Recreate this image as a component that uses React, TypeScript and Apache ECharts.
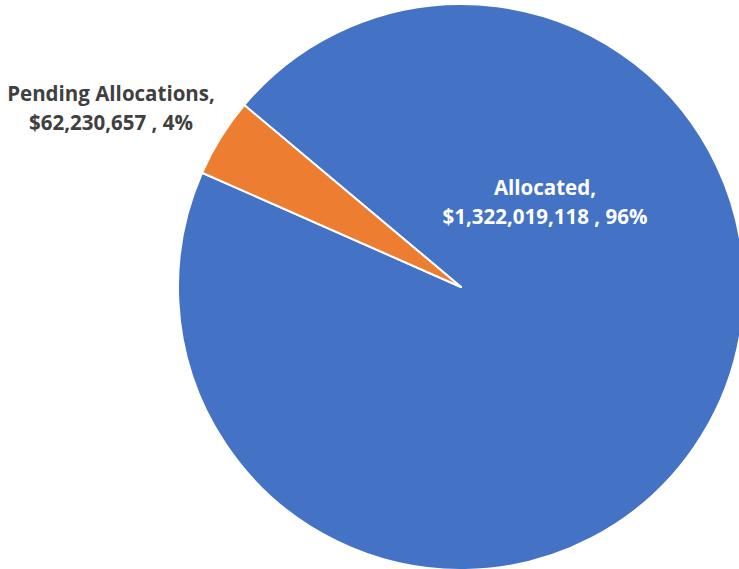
import React, { useEffect, useRef } from "react";
import * as echarts from "echarts";

const categories = ["Allocated", "Pending Allocations"];
const values = [1322019118, 62230657];
const colors = ["#4472C4", "#ED7D31"];

function fmt(v: number) {
  return "$" + v.toLocaleString("en-US");
}

export default function App() {
  const ref = useRef<HTMLDivElement>(null);
  useEffect(() => {
    document.body.style.margin = "0";
    const chart = echarts.init(ref.current!, null, { renderer: "svg" });
    chart.setOption({
      animation: false,
      backgroundColor: "#ffffff",
      series: [
        {
          type: "pie",
          center: [461, 287],
          radius: 283,
          startAngle: 140,
          clockwise: true,
          percentPrecision: 0,
          itemStyle: { borderColor: "#ffffff", borderWidth: 2 },
          labelLine: { show: false },
          data: categories.map((c, i) => ({
            name: c,
            value: values[i],
            itemStyle: { color: colors[i] },
            label: {
              show: true,
              position: "inside",
              overflow: "none",
              color: i === 0 ? "#ffffff" : "#404040",
              fontFamily: "Open Sans",
              fontWeight: "bold",
              fontSize: 20.5,
              lineHeight: 28.5,
              align: "center",
              formatter: (p: any) => `${p.name},\n${fmt(p.value)} , ${p.percent}%`,
            },
          })),
          labelLayout: (params: any) => {
            if (params.dataIndex === 0) {
              return { x: 545, y: 201.5, align: "center", verticalAlign: "middle" };
            }
            return { x: 111, y: 107.5, align: "center", verticalAlign: "middle" };
          },
        },
      ],
    });
    return () => chart.dispose();
  }, []);
  return (
    <div
      ref={ref}
      style={{ position: "fixed", left: 0, top: 0, width: 739, height: 569 }}
    />
  );
}
